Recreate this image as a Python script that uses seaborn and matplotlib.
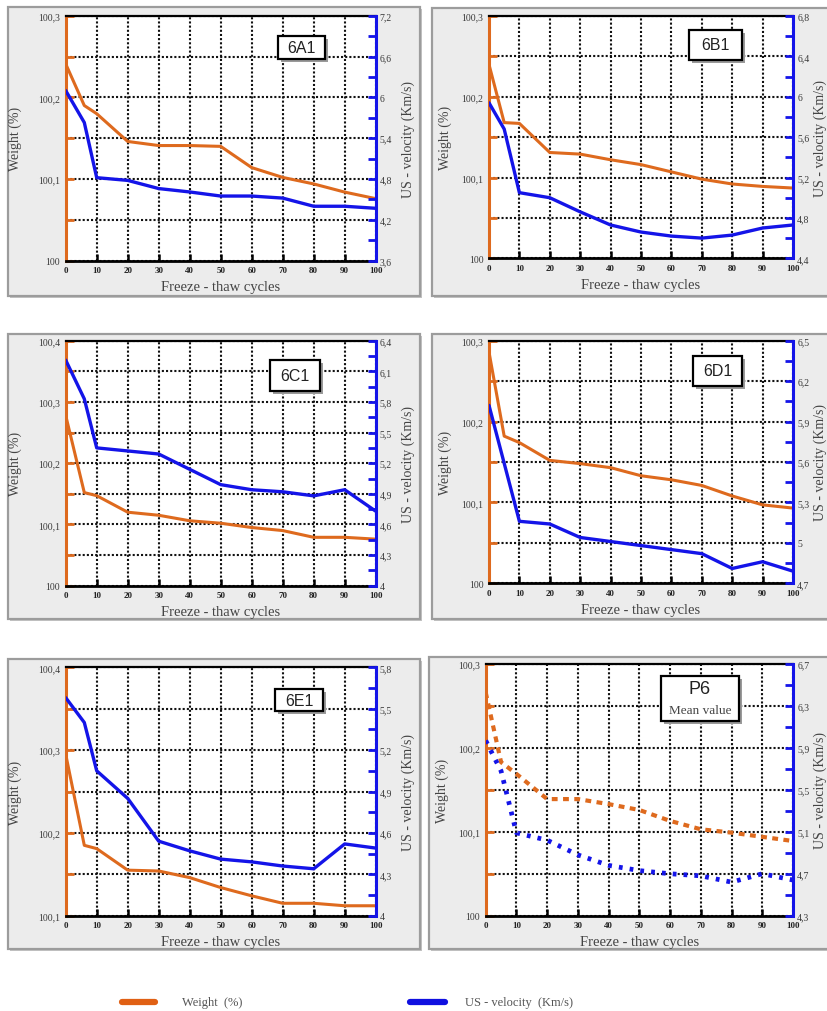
import matplotlib
matplotlib.use("Agg")
import matplotlib.pyplot as plt
import matplotlib.ticker as mticker
from matplotlib.patches import Rectangle
from matplotlib.lines import Line2D
import numpy as np
import pandas as pd
import seaborn as sns

# ---------------------------------------------------------------- data
CYCLES_6 = [0, 6, 10, 20, 30, 40, 50, 60, 70, 80, 90, 100]
CYCLES_5 = [0, 5, 10, 20, 30, 40, 50, 60, 70, 80, 90, 100]

WEIGHT_6A1 = [100.241, 100.190, 100.180, 100.146, 100.141, 100.141, 100.140,
              100.114, 100.102, 100.094, 100.084, 100.076]
VELOCITY_6A1 = [6.10, 5.63, 4.82, 4.78, 4.66, 4.61, 4.55, 4.55, 4.52, 4.40, 4.40, 4.37]

WEIGHT_6B1 = [100.240, 100.168, 100.167, 100.131, 100.129, 100.122, 100.116,
              100.107, 100.098, 100.092, 100.089, 100.087]
VELOCITY_6B1 = [5.94, 5.68, 5.05, 5.00, 4.86, 4.73, 4.66, 4.62, 4.60, 4.63, 4.70, 4.73]

WEIGHT_6C1 = [100.278, 100.152, 100.147, 100.120, 100.115, 100.106, 100.102,
              100.095, 100.090, 100.079, 100.079, 100.076]
VELOCITY_6C1 = [6.21, 5.83, 5.35, 5.32, 5.29, 5.14, 4.99, 4.94, 4.92, 4.88, 4.94, 4.73]

WEIGHT_6D1 = [100.286, 100.182, 100.174, 100.152, 100.148, 100.143, 100.133,
              100.128, 100.121, 100.108, 100.097, 100.093]
VELOCITY_6D1 = [6.02, 5.59, 5.16, 5.14, 5.04, 5.01, 4.98, 4.95, 4.92, 4.81, 4.86, 4.79]

WEIGHT_6E1 = [100.295, 100.185, 100.181, 100.155, 100.154, 100.146, 100.134,
              100.124, 100.115, 100.115, 100.112, 100.112]
VELOCITY_6E1 = [5.58, 5.40, 5.05, 4.85, 4.54, 4.47, 4.41, 4.39, 4.36, 4.34, 4.52, 4.49]

WEIGHT_P6 = [100.266, 100.183, 100.169, 100.139, 100.139, 100.133, 100.126,
             100.113, 100.103, 100.099, 100.094, 100.089]
VELOCITY_P6 = [5.97, 5.68, 5.09, 5.02, 4.88, 4.78, 4.73, 4.70, 4.68, 4.62, 4.70, 4.64]

SPECIMENS = ["6A1", "6B1", "6C1", "6D1", "6E1", "P6"]
WEIGHT_RANGES = [(100.0, 100.3), (100.0, 100.3), (100.0, 100.4),
                 (100.0, 100.3), (100.1, 100.4), (100.0, 100.3)]
VELOCITY_RANGES = [(3.6, 7.2), (4.4, 6.8), (4.0, 6.4), (4.7, 6.5), (4.0, 5.8), (4.3, 6.7)]
VELOCITY_STEPS = [0.6, 0.4, 0.3, 0.3, 0.3, 0.4]
CYCLE_TICKS = list(range(0, 101, 10))

X_LABEL = "Freeze - thaw cycles"
W_LABEL = "Weight (%)"
V_LABEL = "US - velocity (Km/s)"
MEAN_NOTE = "Mean value"

# ---------------------------------------------------------------- style
sns.set_theme(style="white")
plt.rcParams["font.family"] = ["Liberation Serif", "DejaVu Serif"]

ORANGE = "#de6a1e"
BLUE = "#1414e8"
TICK_TXT = "#3a3a3a"
W, H = 828, 1012

fig = plt.figure(figsize=(W / 100, H / 100), dpi=100)
fig.patch.set_facecolor("white")


def frac(x0, y0, x1, y1):
    """Pixel box (top-left origin) -> figure fraction [l, b, w, h]."""
    return [x0 / W, 1 - y1 / H, (x1 - x0) / W, (y1 - y0) / H]


def rect(x0, y0, x1, y1, **kw):
    l, b, w, h = frac(x0, y0, x1, y1)
    r = Rectangle((l, b), w, h, transform=fig.transFigure, **kw)
    fig.add_artist(r)
    return r


def fmt(v, pos):
    return f"{round(v, 4):g}".replace(".", ",")


# panel frames, plot areas and tag boxes (pixels)
FRAMES = [(8, 8, 420, 297), (432, 9, 840, 297), (8, 335, 420, 620),
          (432, 335, 840, 620), (8, 660, 420, 950), (429, 658, 840, 950)]
AREAS = [(65.7, 16.7, 375.7, 261.7), (489, 17, 793, 259.3),
         (65.7, 341.7, 375.7, 586.7), (489, 341.7, 793, 584.3),
         (65.7, 668.3, 375.7, 916.7), (485.7, 665, 793, 916.7)]
TAGS = [(278, 37, 325, 60), (689, 31, 742, 61), (270, 361, 320, 392),
        (693, 357, 742, 387), (275, 690, 323, 712), (661, 677, 739, 722)]

series = [
    (CYCLES_6, WEIGHT_6A1, VELOCITY_6A1),
    (CYCLES_5, WEIGHT_6B1, VELOCITY_6B1),
    (CYCLES_6, WEIGHT_6C1, VELOCITY_6C1),
    (CYCLES_5, WEIGHT_6D1, VELOCITY_6D1),
    (CYCLES_6, WEIGHT_6E1, VELOCITY_6E1),
    (CYCLES_5, WEIGHT_P6, VELOCITY_P6),
]

for i, (cyc, wt, vel) in enumerate(series):
    # grey frame behind each panel
    fx0, fy0, fx1, fy1 = FRAMES[i]
    rect(fx0 + 2, fy0 + 2, fx1 + 2, fy1 + 2, facecolor="#c4c4c4", edgecolor="none", zorder=-2)
    rect(fx0, fy0, fx1, fy1, facecolor="#ececec", edgecolor="#9c9c9c", lw=1.6, zorder=-1)

    ax = fig.add_axes(frac(*AREAS[i]))
    ax.set_facecolor("white")
    ax2 = ax.twinx()

    df = pd.DataFrame({"cycles": cyc, "weight": wt, "velocity": vel})
    mean_panel = SPECIMENS[i] == "P6"
    if mean_panel:
        sns.lineplot(data=df, x="cycles", y="weight", ax=ax, color=ORANGE,
                     linewidth=3.0, linestyle=(0, (1.4, 1.3)), legend=False, zorder=3)
        sns.lineplot(data=df, x="cycles", y="velocity", ax=ax2, color=BLUE,
                     linewidth=3.4, linestyle=(0, (0.8, 1.5)), legend=False, zorder=3)
    else:
        sns.lineplot(data=df, x="cycles", y="weight", ax=ax, color=ORANGE,
                     linewidth=2.2, legend=False, zorder=3)
        sns.lineplot(data=df, x="cycles", y="velocity", ax=ax2, color=BLUE,
                     linewidth=2.4, legend=False, zorder=3)

    wlo, whi = WEIGHT_RANGES[i]
    vlo, vhi = VELOCITY_RANGES[i]
    step = VELOCITY_STEPS[i]
    n = int(round((vhi - vlo) / step))

    ax.set_xlim(0, 100)
    ax.set_ylim(wlo, whi)
    ax2.set_ylim(vlo, vhi)

    ax.xaxis.set_major_locator(mticker.FixedLocator(CYCLE_TICKS))
    ax.yaxis.set_major_locator(mticker.FixedLocator(np.linspace(wlo, whi, int(round((whi - wlo) / 0.1)) + 1)))
    ax.yaxis.set_minor_locator(mticker.FixedLocator(np.linspace(wlo, whi, int(round((whi - wlo) / 0.05)) + 1)))
    ax.yaxis.set_major_formatter(mticker.FuncFormatter(fmt))
    ax2.yaxis.set_major_locator(mticker.FixedLocator(np.linspace(vlo, vhi, n + 1)))
    ax2.yaxis.set_minor_locator(mticker.FixedLocator(np.linspace(vlo, vhi, 2 * n + 1)))
    ax2.yaxis.set_major_formatter(mticker.FuncFormatter(fmt))

    # dotted grid
    ax.grid(True, axis="x", which="major", color="#111111", lw=1.5, ls=(0, (1, 1)))
    ax.grid(True, axis="y", which="both", color="#111111", lw=1.5, ls=(0, (1, 1)))
    ax.set_axisbelow(True)

    ax.set_xlabel("")
    ax.set_ylabel("")
    ax2.set_ylabel("")

    ax.tick_params(axis="x", which="major", direction="in", length=5, width=1.8,
                   color="black", labelsize=6.5, labelcolor="#222222", pad=4, bottom=True)
    for lab in ax.get_xticklabels():
        lab.set_fontweight("bold")
    ax.tick_params(axis="y", which="both", direction="in", length=6, width=2,
                   color=ORANGE, labelsize=7, labelcolor=TICK_TXT, pad=4, left=True)
    ax2.tick_params(axis="y", which="both", direction="in", length=6, width=2,
                    color=BLUE, labelsize=7, labelcolor=TICK_TXT, pad=3, right=True)

    for s in ("left", "right", "top", "bottom"):
        ax2.spines[s].set_visible(False)
    ax2.spines["right"].set_visible(True)
    ax2.spines["right"].set_color(BLUE)
    ax2.spines["right"].set_linewidth(2.2)
    ax.spines["right"].set_visible(False)
    ax.spines["left"].set_color(ORANGE)
    ax.spines["left"].set_linewidth(2.2)
    ax.spines["bottom"].set_color("black")
    ax.spines["bottom"].set_linewidth(2.0)
    ax.spines["top"].set_color("black")
    ax.spines["top"].set_linewidth(1.6)

    # axis titles
    x0, y0, x1, y1 = AREAS[i]
    aw, ah = x1 - x0, y1 - y0
    right_col = x0 > 400
    left_off = 43.5 if right_col else 50.5
    right_off = 27 if right_col else 33
    ax.text(-left_off / aw, 0.5, W_LABEL, transform=ax.transAxes, rotation=90,
            ha="center", va="center", fontsize=10, color="#444444")
    ax.text(1 + right_off / aw, 0.5, V_LABEL, transform=ax.transAxes, rotation=90,
            ha="center", va="center", fontsize=10, color="#444444")
    ax.text(0.5, -26 / ah, X_LABEL, transform=ax.transAxes,
            ha="center", va="center", fontsize=10.5, color="#444444")

    # specimen tag box with drop shadow
    tx0, ty0, tx1, ty1 = TAGS[i]
    rect(tx0 + 3, ty0 + 3, tx1 + 3, ty1 + 3, facecolor="#9a9a9a", edgecolor="none", zorder=5)
    rect(tx0, ty0, tx1, ty1, facecolor="white", edgecolor="black", lw=1.6, zorder=6)
    cx = (tx0 + tx1) / 2 / W
    if mean_panel:
        fig.text(cx, 1 - 690 / H, SPECIMENS[i], ha="center", va="center",
                 fontsize=13, family="Liberation Sans", color="#222222", zorder=7)
        fig.text(cx, 1 - 711 / H, MEAN_NOTE, ha="center", va="center",
                 fontsize=9.5, color="#444444", zorder=7)
    else:
        fig.text(cx, 1 - (ty0 + ty1) / 2 / H, SPECIMENS[i], ha="center", va="center",
                 fontsize=11.5, family="Liberation Sans", color="#222222", zorder=7)

# legend row at the bottom
ly = 1 - 1003 / H
fig.add_artist(Line2D([122 / W, 155 / W], [ly, ly], color="#e06014", lw=4.5,
                      transform=fig.transFigure))
fig.text(182 / W, ly, "Weight  (%)", ha="left", va="center", fontsize=9, color="#555555")
fig.add_artist(Line2D([410 / W, 445 / W], [ly, ly], color="#1010e0", lw=4.5,
                      transform=fig.transFigure))
fig.text(465 / W, ly, "US - velocity  (Km/s)", ha="left", va="center", fontsize=9, color="#555555")

fig.savefig("out.png", dpi=100, facecolor="white")
